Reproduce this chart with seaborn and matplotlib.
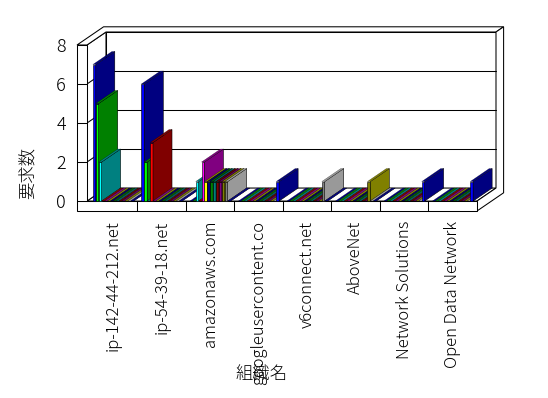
import pandas as pd
import matplotlib
matplotlib.use('Agg')
import matplotlib.pyplot as plt
from matplotlib.patches import Polygon
import seaborn as sns

# ------------------------------------------------------------
#  data: requests per organisation, one value per series
# ------------------------------------------------------------
orgs = ['ip-142-44-212.net', 'ip-54-39-18.net', 'amazonaws.com',
        'googleusercontent.co', 'v6connect.net', 'AboveNet',
        'Network Solutions', 'Open Data Network']
series = ['s%02d' % i for i in range(1, 15)]

ip142 = [7, 5, 2, 0, 0, 0, 0, 0, 0, 0, 0, 0, 0, 0]
ip54 = [6, 2, 0, 3, 0, 0, 0, 0, 0, 0, 0, 0, 0, 0]
amazon = [0, 0, 1, 0, 2, 1, 1, 1, 1, 1, 1, 1, 1, 0]
google = [0, 0, 0, 0, 0, 0, 0, 0, 0, 0, 0, 0, 0, 1]
v6connect = [0, 0, 0, 0, 0, 0, 0, 0, 0, 0, 0, 0, 1, 0]
abovenet = [0, 0, 0, 0, 0, 0, 0, 0, 0, 0, 0, 1, 0, 0]
netsol = [0, 0, 0, 0, 0, 0, 0, 0, 0, 0, 0, 0, 0, 1]
odn = [0, 0, 0, 0, 0, 0, 0, 0, 0, 0, 0, 0, 0, 1]

counts = [ip142, ip54, amazon, google, v6connect, abovenet, netsol, odn]
rows = []
for org, vals in zip(orgs, counts):
    for s, v in zip(series, vals):
        rows.append({'org': org, 'series': s, 'count': v})
df = pd.DataFrame(rows)

# front face / side face colours (old 16 colour palette)
front = ['#0000ff', '#00ff00', '#00ffff', '#ff0000', '#ff00ff', '#ffff00', '#000080',
         '#008000', '#008080', '#800000', '#800080', '#808000', '#808080', '#0000ff']
side = ['#000080', '#008000', '#008080', '#800000', '#800080', '#808000', '#000060',
        '#006000', '#006060', '#600000', '#600060', '#808000', '#999999', '#000080']

sns.set_style('white')
plt.rcParams['font.family'] = ['Noto Sans CJK JP', 'DejaVu Sans']

W, H = 548, 398
fig = plt.figure(figsize=(W / 100, H / 100), dpi=100)
ax = fig.add_axes([77 / W, (H - 211) / H, 400 / W, 166 / H])

sns.barplot(data=df, x='org', y='count', hue='series', hue_order=series, order=orgs,
            palette=front, saturation=1, width=0.84, errorbar=None,
            edgecolor='black', linewidth=0.4, legend=False, ax=ax)

xl, xi, xr = -0.747, -0.541, 7.5   # left wall outer / inner, right end
yb, yt = -0.51, 8                  # floor bottom, wall top
ax.set_xlim(xl, xr)
ax.set_ylim(yb, yt)

# depth offset of the 3d look (data units)
dx, dy = 19 / 48.5, 13 / 19.5


def P(x, y, z):
    return (x + z * dx, y + z * dy)


def face(pts, z=1.0, fc='white', lw=0.75):
    ax.add_patch(Polygon(pts, closed=True, fc=fc, ec='black', lw=lw,
                         zorder=z, clip_on=False))


def line(p, q, z=1.2):
    ax.plot([p[0], q[0]], [p[1], q[1]], color='black', lw=0.75,
            zorder=z, clip_on=False)


zb = 1.4  # back of the back wall
# back wall, floor, left wall
face([P(xi, 0, 1), P(xr, 0, 1), P(xr, yt, 1), P(xi, yt, 1)])
face([P(xi, 0, 0), P(xr, 0, 0), P(xr, 0, 1), P(xi, 0, 1)])
face([P(xi, 0, 0), P(xi, 0, 1), P(xi, yt, 1), P(xi, yt, 0)])
face([P(xl, yt, 0), P(xi, yt, 0), P(xi, yt, 1), P(xr, yt, 1),
      P(xr, yt, zb), P(xl, yt, zb)])
face([P(xr, yb, 0), P(xr, 0, 0), P(xr, 0, 1), P(xr, yt, 1),
      P(xr, yt, zb), P(xr, yb, zb)])
face([P(xl, yb, 0), P(xr, yb, 0), P(xr, 0, 0), P(xi, 0, 0),
      P(xi, yt, 0), P(xl, yt, 0)], z=1.3)

yticks = [0, 2, 4, 6, 8]
for y in yticks[1:-1]:
    line(P(xi, y, 1), P(xr, y, 1))
    line(P(xi, y, 0), P(xi, y, 1))
for y in yticks[:-1]:
    line(P(xl, y, 0), P(xi, y, 0), z=1.4)
for k in range(1, len(orgs)):
    line(P(k - 0.5, yb, 0), P(k - 0.5, 0, 0), z=1.4)

# 3d faces for every bar, drawn left to right
for s, cont in enumerate(ax.containers):
    for bar in cont.patches:
        x0 = bar.get_x()
        x1 = x0 + bar.get_width()
        h = bar.get_height()
        c = round(x0 + bar.get_width() / 2)
        z = 3 + c + s * 0.01
        bar.set_zorder(z)
        face([(x1, 0), (x1, h), (x1 + dx, h + dy), (x1 + dx, dy)], z=z, fc=side[s], lw=0.4)
        face([(x0, h), (x1, h), (x1 + dx, h + dy), (x0 + dx, h + dy)], z=z, fc=side[s], lw=0.15)

for sp in ax.spines.values():
    sp.set_visible(False)
ax.set_yticks(yticks)
ax.set_yticklabels([str(v) for v in yticks])
ax.set_xticks(range(len(orgs)))
ax.set_xticklabels(orgs, rotation=90)
ax.tick_params(axis='y', length=0, pad=8, labelsize=13, labelcolor='black')
ax.tick_params(axis='x', length=0, pad=7, labelsize=12, labelcolor='black')
for t in ax.get_xticklabels() + ax.get_yticklabels():
    t.set_fontweight('light')

ax.set_ylabel('要求数', fontsize=12.5, color='black', fontweight='light')
ax.yaxis.set_label_coords(-0.0975, 0.229)
ax.set_xlabel('組織名', fontsize=12.5, color='black', fontweight='light')
ax.xaxis.set_label_coords(0.4625, -0.928)

fig.savefig('out.png', dpi=100)
